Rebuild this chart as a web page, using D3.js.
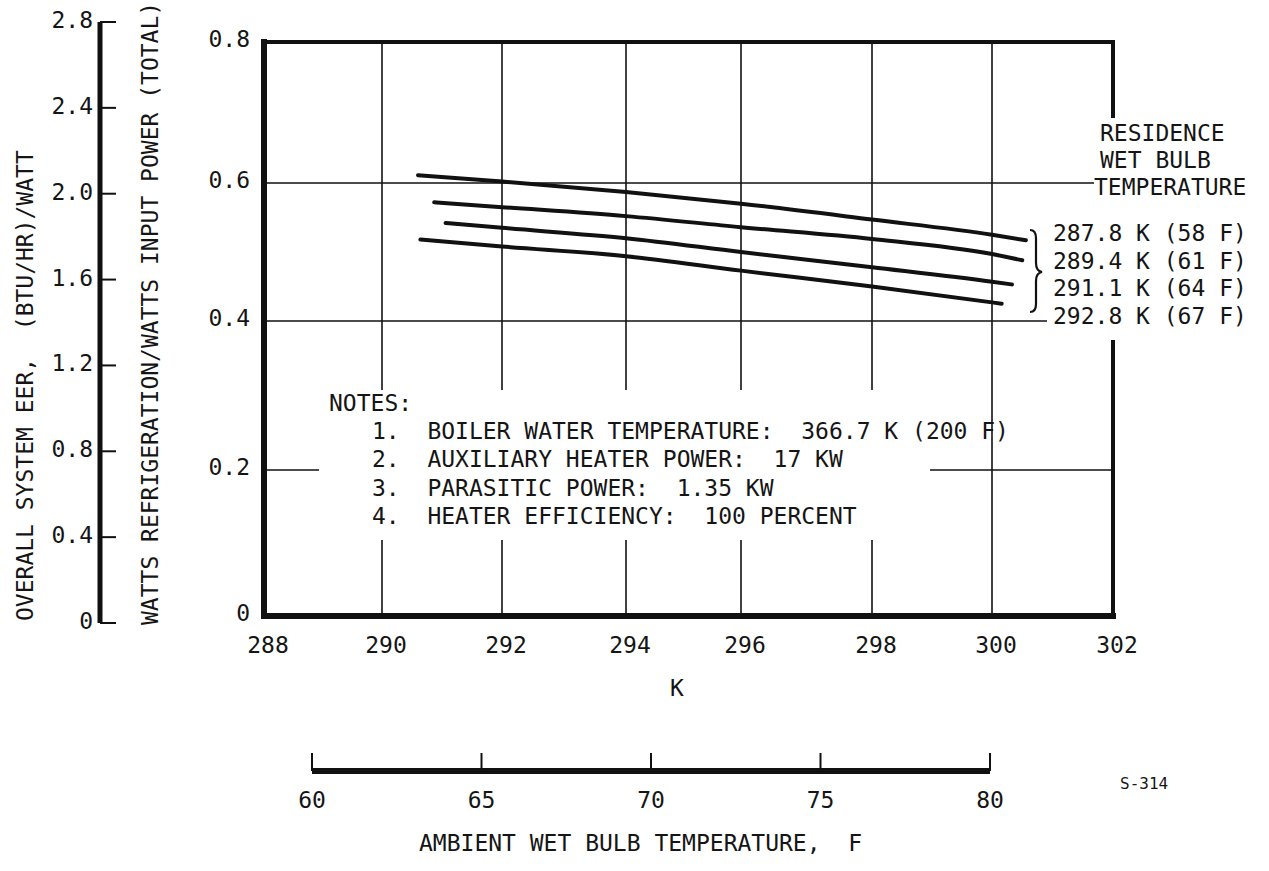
<!DOCTYPE html>
<html>
<head>
<meta charset="utf-8">
<script src="https://cdn.jsdelivr.net/npm/d3@7"></script>
<style>
  html, body { margin: 0; padding: 0; background: #fff; }
  svg { display: block; }
  text { font-family: "DejaVu Sans Mono", "Liberation Mono", monospace; fill: #151515; white-space: pre; }
</style>
</head>
<body>
<script>
// ---------- data ----------
const kelvinTicks = [288, 290, 292, 294, 296, 298, 300, 302];
const ratioTicks = [0, 0.2, 0.4, 0.6, 0.8];
const eerTicks = [0, 0.4, 0.8, 1.2, 1.6, 2.0, 2.4, 2.8];
const fahrenheitTicks = [60, 65, 70, 75, 80];
const seriesNames = ["287.8 K (58 F)", "289.4 K (61 F)", "291.1 K (64 F)", "292.8 K (67 F)"];
const s1x = [290.6, 292, 294, 296, 298, 300, 300.56];
const s1y = [0.611, 0.602, 0.587, 0.570, 0.547, 0.525, 0.517];
const s2x = [290.87, 292, 294, 296, 298, 300, 300.5];
const s2y = [0.572, 0.565, 0.552, 0.536, 0.519, 0.497, 0.488];
const s3x = [291.06, 292, 294, 296, 298, 300, 300.33];
const s3y = [0.542, 0.535, 0.520, 0.500, 0.478, 0.457, 0.453];
const s4x = [290.64, 292, 294, 296, 298, 300, 300.16];
const s4y = [0.518, 0.508, 0.494, 0.473, 0.450, 0.427, 0.425];
const notesTitle = "NOTES:";
const notes = [
  "1.  BOILER WATER TEMPERATURE:  366.7 K (200 F)",
  "2.  AUXILIARY HEATER POWER:  17 KW",
  "3.  PARASITIC POWER:  1.35 KW",
  "4.  HEATER EFFICIENCY:  100 PERCENT"
];
const legendTitle = ["RESIDENCE", "WET BULB", "TEMPERATURE"];

// ---------- layout ----------
const W = 1269, H = 871;
const svg = d3.select("body").append("svg").attr("width", W).attr("height", H);
svg.append("rect").attr("width", W).attr("height", H).attr("fill", "#fff");

// hand-drawn grid: piecewise scales matching the original's grid positions
const x = d3.scaleLinear().domain(kelvinTicks).range([264, 382, 502, 626, 741, 872, 992, 1113]);
const y = d3.scaleLinear().domain(ratioTicks).range([616, 470, 321, 183, 42]);
const yEER = d3.scaleLinear().domain([0, 2.8]).range([623, 22]);
const xF = d3.scaleLinear().domain([60, 80]).range([312, 990]);

const ink = "#111";
const FS = 23;

// ---------- grid ----------
const grid = svg.append("g").attr("stroke", ink).attr("stroke-width", 1.6).attr("fill", "none");
const gapTop = 390, gapBot = 540;
kelvinTicks.slice(1, -1).forEach(k => {
  if (k === 300) {
    grid.append("line").attr("x1", x(k)).attr("x2", x(k)).attr("y1", y(0.8)).attr("y2", y(0));
  } else {
    grid.append("line").attr("x1", x(k)).attr("x2", x(k)).attr("y1", y(0.8)).attr("y2", gapTop);
    grid.append("line").attr("x1", x(k)).attr("x2", x(k)).attr("y1", gapBot).attr("y2", y(0));
  }
});
// horizontal grid lines
grid.append("line").attr("x1", x(288)).attr("x2", 1094).attr("y1", y(0.6)).attr("y2", y(0.6));
grid.append("line").attr("x1", x(288)).attr("x2", 1047).attr("y1", y(0.4)).attr("y2", y(0.4));
grid.append("line").attr("x1", x(288)).attr("x2", 319).attr("y1", y(0.2)).attr("y2", y(0.2));
grid.append("line").attr("x1", 930).attr("x2", x(302)).attr("y1", y(0.2)).attr("y2", y(0.2));

// ---------- frame ----------
const frame = svg.append("g").attr("stroke", ink).attr("fill", "none").attr("stroke-linecap", "square");
frame.append("line").attr("x1", x(288)).attr("x2", x(302)).attr("y1", y(0.8)).attr("y2", y(0.8)).attr("stroke-width", 4);
frame.append("line").attr("x1", x(288)).attr("x2", x(288)).attr("y1", y(0.8)).attr("y2", y(0)).attr("stroke-width", 6);
frame.append("line").attr("x1", x(288)).attr("x2", x(302)).attr("y1", y(0)).attr("y2", y(0)).attr("stroke-width", 6);
frame.append("line").attr("x1", x(302)).attr("x2", x(302)).attr("y1", y(0.8)).attr("y2", 116).attr("stroke-width", 4);
frame.append("line").attr("x1", x(302)).attr("x2", x(302)).attr("y1", 342).attr("y2", y(0)).attr("stroke-width", 4);

// ---------- curves ----------
const series = [[s1x, s1y], [s2x, s2y], [s3x, s3y], [s4x, s4y]];
const line = d3.line().x(d => x(d[0])).y(d => y(d[1])).curve(d3.curveMonotoneX);
series.forEach(([xs, ys]) => {
  svg.append("path").datum(xs.map((v, i) => [v, ys[i]]))
    .attr("d", line).attr("fill", "none").attr("stroke", ink)
    .attr("stroke-width", 4).attr("stroke-linecap", "round");
});

// ---------- ratio axis labels ----------
ratioTicks.forEach(v => {
  svg.append("text").attr("x", 250).attr("y", y(v) - 3)
    .attr("text-anchor", "end").attr("dominant-baseline", "central")
    .attr("font-size", FS).text(v === 0 ? "0" : d3.format(".1f")(v));
});
// K axis labels
kelvinTicks.forEach(k => {
  svg.append("text").attr("x", x(k) + 4).attr("y", 645)
    .attr("text-anchor", "middle").attr("dominant-baseline", "central")
    .attr("font-size", FS).text(k);
});
svg.append("text").attr("x", 677).attr("y", 688).attr("text-anchor", "middle")
  .attr("dominant-baseline", "central").attr("font-size", FS).text("K");

// ---------- EER axis ----------
svg.append("line").attr("x1", 100).attr("x2", 100).attr("y1", yEER(2.8)).attr("y2", yEER(0))
  .attr("stroke", ink).attr("stroke-width", 5);
eerTicks.forEach(v => {
  svg.append("line").attr("x1", 100).attr("x2", 116).attr("y1", yEER(v)).attr("y2", yEER(v))
    .attr("stroke", ink).attr("stroke-width", 2);
  svg.append("text").attr("x", 93).attr("y", yEER(v) - 2)
    .attr("text-anchor", "end").attr("dominant-baseline", "central")
    .attr("font-size", FS).text(v === 0 ? "0" : d3.format(".1f")(v));
});
svg.append("text").attr("transform", "translate(25,621) rotate(-90)")
  .attr("dominant-baseline", "central").attr("font-size", FS)
  .text("OVERALL SYSTEM EER,  (BTU/HR)/WATT");
svg.append("text").attr("transform", "translate(150,625) rotate(-90)")
  .attr("dominant-baseline", "central").attr("font-size", FS)
  .text("WATTS REFRIGERATION/WATTS INPUT POWER (TOTAL)");

// ---------- legend ----------
const legX = [1100, 1100, 1094], legY = [133, 160, 187];
legendTitle.forEach((t, i) => {
  svg.append("text").attr("x", legX[i]).attr("y", legY[i]).attr("dominant-baseline", "central")
    .attr("font-size", FS).text(t);
});
seriesNames.forEach((t, i) => {
  svg.append("text").attr("x", 1053).attr("y", 233 + i * 27.5).attr("dominant-baseline", "central")
    .attr("font-size", FS).text(t);
});
// brace
svg.append("path")
  .attr("d", "M1030,230 Q1036,230 1036,238 L1036,263 Q1036,271 1042,272 Q1036,273 1036,281 L1036,304 Q1036,312 1030,312")
  .attr("fill", "none").attr("stroke", ink).attr("stroke-width", 2.2);

// ---------- notes ----------
svg.append("text").attr("x", 329).attr("y", 403).attr("dominant-baseline", "central")
  .attr("font-size", FS).text(notesTitle);
notes.forEach((t, i) => {
  svg.append("text").attr("x", 372).attr("y", 431 + i * 28.3).attr("dominant-baseline", "central")
    .attr("font-size", FS).text(t);
});

// ---------- Fahrenheit axis ----------
svg.append("line").attr("x1", xF(60)).attr("x2", xF(80)).attr("y1", 771).attr("y2", 771)
  .attr("stroke", ink).attr("stroke-width", 6);
fahrenheitTicks.forEach(f => {
  svg.append("line").attr("x1", xF(f)).attr("x2", xF(f)).attr("y1", 753).attr("y2", 771)
    .attr("stroke", ink).attr("stroke-width", 2);
  svg.append("text").attr("x", xF(f)).attr("y", 800).attr("text-anchor", "middle")
    .attr("dominant-baseline", "central").attr("font-size", FS).text(f);
});
svg.append("text").attr("x", 419).attr("y", 843).attr("dominant-baseline", "central")
  .attr("font-size", FS).text("AMBIENT WET BULB TEMPERATURE,  F");
svg.append("text").attr("x", 1120).attr("y", 783).attr("dominant-baseline", "central")
  .attr("font-size", 16).text("S-314");
</script>
</body>
</html>
